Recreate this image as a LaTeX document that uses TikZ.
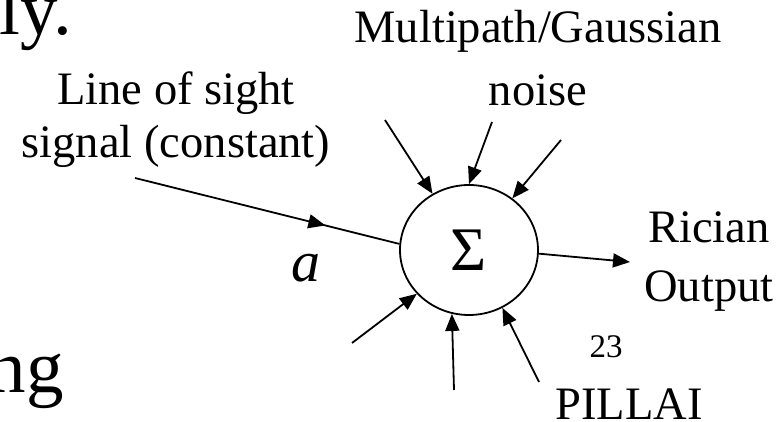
\documentclass[tikz,border=0pt]{standalone}
\usepackage{fontspec}
\setmainfont{Liberation Serif}
\usetikzlibrary{arrows.meta,shapes.geometric,decorations.markings}
\tikzset{
  sumnode/.style={draw, ellipse, line width=1.8pt, minimum width=138pt, minimum height=130pt, inner sep=0pt, font=\fontsize{62}{62}\selectfont},
  lbl/.style={inner sep=0pt, anchor=base, font=\fontsize{46.5}{54}\selectfont},
  slidetext/.style={inner sep=0pt, anchor=base east, font=\fontsize{75}{75}\selectfont},
  arrow/.style={-{Triangle[length=17pt,width=14pt]}, line width=1.8pt},
  midarrow/.style={line width=1.8pt, postaction={decorate},
    decoration={markings, mark=at position 0.72 with {\arrow{Triangle[length=17pt,width=14pt]}}}}
}
\begin{document}
\begin{tikzpicture}[x=1pt,y=-1pt]
  \fill[white] (0,0) rectangle (780,422);
  \useasboundingbox (0,0) rectangle (780,422);
  % cut-off slide text
  \node[slidetext] (ly) at (72,35) {ly.};
  \node[slidetext] (ng) at (64,392) {ng};
  % summing node
  \node[sumnode] (sum) at (469,250) {Σ};
  % labels
  \node[lbl] (los1) at (176,105) {Line of sight};
  \node[lbl] (los2) at (176,158) {signal (constant)};
  \node[lbl] (mp1) at (538,43) {Multipath/Gaussian};
  \node[lbl] (mp2) at (538,106) {noise};
  \node[lbl] (ric1) at (709,243) {Rician};
  \node[lbl] (ric2) at (709,302) {Output};
  \node[lbl] (pillai) at (629,419) {PILLAI};
  \node[inner sep=0pt, anchor=base, font=\fontsize{58}{58}\selectfont\itshape] (amp) at (306,282) {a};
  \node[inner sep=0pt, anchor=base, font=\fontsize{33}{33}\selectfont] (page) at (606,358) {23};
  % arrow tails
  \coordinate (los) at (135,178);
  \coordinate (t1) at (385,120);
  \coordinate (t2) at (492,122);
  \coordinate (t3) at (561,140);
  \coordinate (b1) at (352,343);
  \coordinate (b2) at (454,390);
  \coordinate (b3) at (539,382);
  \coordinate (out) at (630,262);
  % connectors
  \draw[midarrow] (los) -- (sum.175);
  \draw[arrow] (t1) -- (sum.123);
  \draw[arrow] (t2) -- (sum.north);
  \draw[arrow] (t3) -- (sum.50);
  \draw[arrow] (b1) -- (sum.220);
  \draw[arrow] (b2) -- (sum.255);
  \draw[arrow] (b3) -- (sum.300);
  \draw[arrow] (sum.357) -- (out);
\end{tikzpicture}
\end{document}
